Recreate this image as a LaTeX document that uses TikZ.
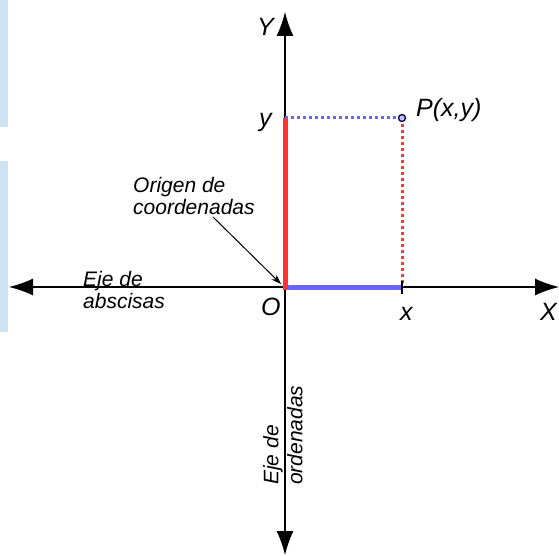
\documentclass[tikz,border=0pt]{standalone}
\usepackage{fontspec}
\setmainfont{Liberation Sans}
\usetikzlibrary{arrows.meta}
\definecolor{strip}{RGB}{207,228,242}
\definecolor{cred}{RGB}{255,51,51}
\definecolor{cblue}{RGB}{102,102,255}
\begin{document}
\begin{tikzpicture}[x=1pt,y=-1pt,
  axis/.style={line width=1.2pt,-{Latex[length=24pt,width=17pt]}},
  lbl/.style={inner sep=0pt,font=\fontsize{21}{22}\selectfont\itshape,align=left},
  big/.style={inner sep=0pt,anchor=base west,font=\fontsize{25}{27}\selectfont\itshape},
  thickseg/.style={line width=5pt},
  dots/.style={line width=3pt,dash pattern=on 3pt off 3pt}]
\useasboundingbox (0,0) rectangle (559,556);
\fill[strip] (0,0) rectangle (8,127);
\fill[strip] (0,161) rectangle (8,332);
% coordinates
\coordinate (O) at (285,287);
\coordinate (Xl) at (9,287);
\coordinate (Xr) at (559,287);
\coordinate (Yt) at (285,12);
\coordinate (Yb) at (285,555);
\coordinate (yp) at (285,118);
\coordinate (xp) at (402,287);
\coordinate (tkA) at (402,281);
\coordinate (tkB) at (402,294);
% axes
\draw[axis] (O) -- (Xr);
\draw[axis] (O) -- (Xl);
\draw[axis] (O) -- (Yt);
\draw[axis] (O) -- (Yb);
% projections
\draw[cblue,thickseg] (O) -- (xp);
\draw[cred,thickseg] (285,289.5) -- (yp);
\draw[cblue,dots] (yp) -- (402,118);
\draw[cred,dots] (402,118) -- (xp);
\node[circle,draw=black!75!blue,fill=cblue!40,line width=1.3pt,minimum size=7pt,inner sep=0pt] (P) at (402,118) {};
\draw[line width=2pt] (tkA) -- (tkB);
% labels
\node[big] (lY) at (257,36) {Y};
\node[big] (ly) at (259,127) {y};
\node[big] (lP) at (416,117) {P(x,y)};
\node[big] (lO) at (261,315) {O};
\node[big] (lx) at (400,320) {x};
\node[big] (lX) at (540,320) {X};
\node[lbl,anchor=north west] (orig) at (133,177) {Origen de\\coordenadas};
\node[lbl,anchor=north west] (absc) at (83,271) {Eje de\\abscisas};
\node[lbl,anchor=north west,rotate=90,font=\fontsize{21}{24}\selectfont\itshape] (orde) at (263,485) {Eje de\\ordenadas};
\coordinate (oa) at (213,217);
\draw[line width=1pt,-{Stealth[length=10pt,width=7pt]}] (oa) -- (281,284);
\end{tikzpicture}
\end{document}
